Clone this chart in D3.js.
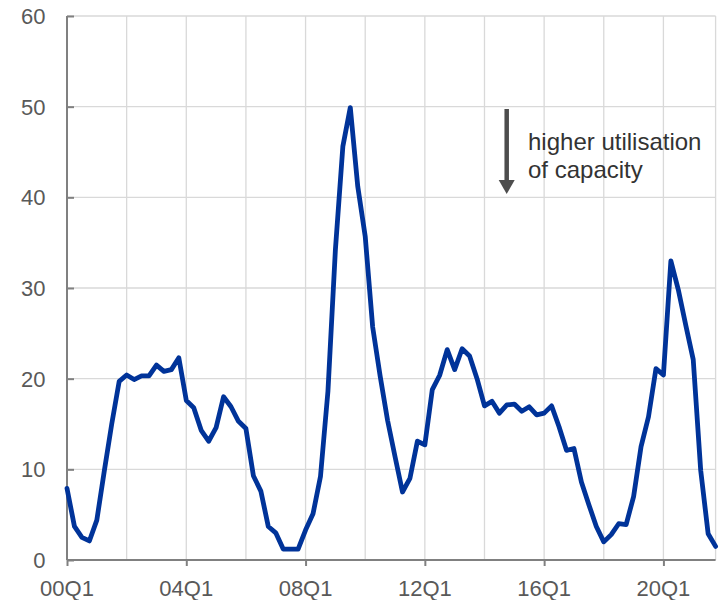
<!DOCTYPE html>
<html>
<head>
<meta charset="utf-8">
<script src="https://cdn.jsdelivr.net/npm/d3@7"></script>
<style>
  html, body { margin: 0; padding: 0; background: #ffffff; }
  svg { display: block; font-family: "Liberation Sans", Arial, sans-serif; }
</style>
</head>
<body>
<svg id="chart" width="722" height="600"></svg>
<script>
// Years covered, quarterly from 2000Q1 to 2021Q4
const years = d3.range(2000, 2022);
const quarters = years.flatMap(yr => [1, 2, 3, 4].map(q => String(yr % 100).padStart(2, "0") + "Q" + q));

// Spare-capacity indicator, one value per quarter
const values = [
  7.9, 3.7, 2.5, 2.1, 4.4, 9.8, 15.0, 19.7,
  20.4, 19.9, 20.3, 20.3, 21.5, 20.8, 21.0, 22.3,
  17.6, 16.8, 14.3, 13.1, 14.6, 18.0, 16.9, 15.3,
  14.5, 9.3, 7.6, 3.7, 3.0, 1.2, 1.2, 1.2,
  3.3, 5.1, 9.2, 18.6, 34.2, 45.6, 49.9, 41.2,
  35.7, 25.7, 20.3, 15.4, 11.4, 7.5, 9.0, 13.1,
  12.7, 18.8, 20.4, 23.2, 21.0, 23.3, 22.5, 20.0,
  17.0, 17.5, 16.2, 17.1, 17.2, 16.4, 16.9, 16.0,
  16.2, 17.0, 14.7, 12.1, 12.3, 8.6, 6.1, 3.7,
  2.0, 2.8, 4.0, 3.9, 7.0, 12.5, 15.8, 21.1,
  20.4, 33.0, 29.8, 25.9, 22.1, 9.9, 2.9, 1.5
];

// Axis labels
const xTickLabels = ["00Q1", "04Q1", "08Q1", "12Q1", "16Q1", "20Q1"];
const xGridLabels = ["00Q1", "02Q1", "04Q1", "06Q1", "08Q1", "10Q1", "12Q1", "14Q1", "16Q1", "18Q1", "20Q1"];
const yTicks = [0, 10, 20, 30, 40, 50, 60];
const noteLines = ["higher utilisation", "of capacity"];

const svg = d3.select("#chart");
const plotLeft = 67, plotRight = 715.6, plotTop = 16, plotBottom = 560;

const x = d3.scalePoint().domain(quarters).range([plotLeft, plotRight]);
const y = d3.scaleLinear().domain([0, 60]).range([plotBottom, plotTop]);

const gridColor = "#d9d9d9";
const axisColor = "#808080";
const labelColor = "#595959";

// Horizontal gridlines
svg.append("g")
  .selectAll("line")
  .data(yTicks.filter(d => d > 0))
  .join("line")
  .attr("x1", plotLeft).attr("x2", plotRight)
  .attr("y1", d => y(d)).attr("y2", d => y(d))
  .attr("stroke", gridColor).attr("stroke-width", 1.3);

// Vertical gridlines every two years, plus the right frame edge
svg.append("g")
  .selectAll("line")
  .data(xGridLabels.filter(d => d !== "00Q1"))
  .join("line")
  .attr("x1", d => x(d)).attr("x2", d => x(d))
  .attr("y1", plotTop).attr("y2", plotBottom)
  .attr("stroke", gridColor).attr("stroke-width", 1.3);

svg.append("line")
  .attr("x1", plotRight).attr("x2", plotRight)
  .attr("y1", plotTop).attr("y2", plotBottom)
  .attr("stroke", gridColor).attr("stroke-width", 1.3);

// Y axis: line, inward ticks, labels
const yAxis = d3.axisRight(y).tickValues(yTicks).tickSize(7).tickFormat("");
const gy = svg.append("g").attr("transform", `translate(${plotLeft},0)`).call(yAxis);
gy.select(".domain").attr("d", `M0,${plotTop}V${plotBottom}`).attr("stroke", axisColor).attr("stroke-width", 2);
gy.selectAll(".tick line").attr("stroke", axisColor).attr("stroke-width", 2);

svg.append("g")
  .selectAll("text")
  .data(yTicks)
  .join("text")
  .attr("x", 45.5)
  .attr("y", d => y(d))
  .attr("dy", "0.36em")
  .attr("text-anchor", "end")
  .attr("font-size", 22)
  .attr("fill", labelColor)
  .text(d => d);

// X axis: line, downward ticks, labels
const xAxis = d3.axisBottom(x).tickValues(xTickLabels).tickSize(6).tickSizeOuter(0).tickFormat("");
const gx = svg.append("g").attr("transform", `translate(0,${plotBottom})`).call(xAxis);
gx.select(".domain").attr("d", `M${plotLeft},0H${plotRight}`).attr("stroke", axisColor).attr("stroke-width", 2);
gx.selectAll(".tick line").attr("stroke", axisColor).attr("stroke-width", 2);

svg.append("g")
  .selectAll("text")
  .data(xTickLabels)
  .join("text")
  .attr("x", d => x(d))
  .attr("y", 596)
  .attr("text-anchor", "middle")
  .attr("font-size", 22)
  .attr("fill", labelColor)
  .text(d => d);

// Series line
const line = d3.line()
  .x((d, i) => x(quarters[i]))
  .y(d => y(d));

svg.append("path")
  .datum(values)
  .attr("d", line)
  .attr("fill", "none")
  .attr("stroke", "#003399")
  .attr("stroke-width", 4.8)
  .attr("stroke-linejoin", "round")
  .attr("stroke-linecap", "round");

// Annotation: downward arrow and note
const arrowX = 506.7;
svg.append("line")
  .attr("x1", arrowX).attr("x2", arrowX)
  .attr("y1", 109).attr("y2", 182)
  .attr("stroke", "#4d4d4d").attr("stroke-width", 4.5);
svg.append("path")
  .attr("d", `M${arrowX - 8},180L${arrowX + 8},180L${arrowX},194Z`)
  .attr("fill", "#4d4d4d");

svg.append("g")
  .selectAll("text")
  .data(noteLines)
  .join("text")
  .attr("x", 528)
  .attr("y", (d, i) => 150 + i * 28)
  .attr("font-size", 24)
  .attr("fill", "#333333")
  .text(d => d);
</script>
</body>
</html>
